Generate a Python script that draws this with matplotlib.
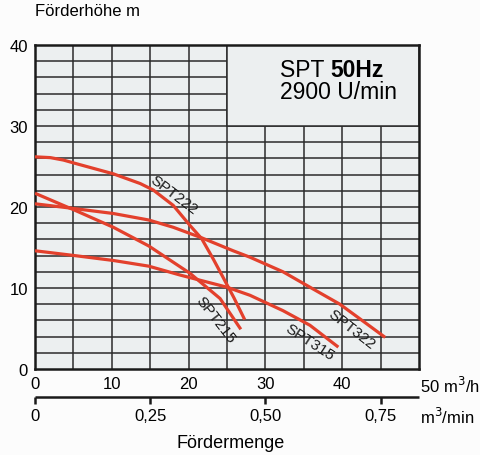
import matplotlib.pyplot as plt
from matplotlib.patches import Rectangle

plt.rcParams["font.family"] = ["Liberation Sans", "DejaVu Sans"]

# Q-H curves (Fördermenge m3/h, Förderhöhe m)
spt222_q = [0, 2, 3.7, 5.2, 10.2, 13.7, 15.4, 18, 20.2, 21.7, 23.2, 24.5, 25.9, 27.3]
spt222_h = [26.2, 26.1, 25.8, 25.4, 24.1, 22.9, 22.1, 20.2, 17.7, 16.1, 13.6, 11.3, 8.8, 6.1]

spt322_q = [0, 5.2, 10.2, 14.8, 18, 21.7, 25.8, 28, 32.3, 35.8, 39.7, 42.3, 45.6]
spt322_h = [20.4, 19.8, 19.2, 18.4, 17.5, 16.2, 14.6, 13.8, 12.0, 10.1, 8.0, 6.2, 3.9]

spt315_q = [0, 5.2, 10.2, 14.8, 18.9, 25, 28, 32.3, 35.8, 39.5]
spt315_h = [14.6, 14.0, 13.4, 12.7, 11.6, 10.1, 9.1, 7.2, 5.4, 2.7]

spt215_q = [0, 3.7, 5.2, 10.2, 14.8, 20.2, 24.1, 26.8]
spt215_h = [21.7, 20.2, 19.6, 17.5, 15.2, 11.8, 8.7, 4.9]

curve_names = ["SPT222", "SPT322", "SPT315", "SPT215"]
label_pos = [(18.1, 21.5), (41.2, 4.9), (35.8, 3.4), (23.5, 6.2)]
label_rot = [-37, -38, -33, -52]

x_ticks = [0, 10, 20, 30, 40]
y_ticks = [0, 10, 20, 30, 40]
min_ticks = [0, 0.25, 0.50, 0.75]
min_labels = ["0", "0,25", "0,50", "0,75"]

red = "#e3402c"
grid_col = "#2b2b2b"
dark = "#1a1a1a"
bg = "#eceff0"

fig = plt.figure(figsize=(4.8, 4.56), dpi=100)
fig.patch.set_facecolor("#fcfcfc")
ax = fig.add_axes([0.0729, 0.1886, 0.8, 0.7104])
ax.set_facecolor(bg)
ax.set_xlim(0, 50)
ax.set_ylim(0, 40)

# grid
for gx in range(5, 50, 5):
    ax.axvline(gx, color=grid_col, lw=1.1, zorder=1)
for gy in range(2, 40, 2):
    ax.axhline(gy, color=grid_col, lw=1.1, zorder=1)

# title box area without grid
ax.add_patch(Rectangle((25, 30), 25, 10, facecolor=bg, edgecolor=grid_col,
                       lw=1.1, zorder=2))
ax.text(38.4, 37.0, "SPT ", ha="right", va="center", fontsize=16.5, zorder=3)
ax.text(38.4, 37.0, "50Hz", ha="left", va="center", fontsize=16.5,
        fontweight="bold", zorder=3)
ax.text(39.5, 34.3, "2900 U/min", ha="center", va="center", fontsize=16.5,
        zorder=3)

for q, h in [(spt222_q, spt222_h), (spt322_q, spt322_h),
             (spt315_q, spt315_h), (spt215_q, spt215_h)]:
    ax.plot(q, h, color=red, lw=2.3, solid_capstyle="butt",
            solid_joinstyle="round", zorder=4)

for name, (lx, ly), rot in zip(curve_names, label_pos, label_rot):
    ax.text(lx, ly, name, rotation=rot, ha="center", va="center",
            fontsize=11, color=dark, zorder=5)

for s in ax.spines.values():
    s.set_linewidth(1.8)
    s.set_color(dark)

ax.set_xticks(x_ticks)
ax.set_yticks(y_ticks)
ax.tick_params(length=0, labelsize=12, pad=5)
ax.set_yticklabels([str(v) for v in y_ticks])
ax.set_xticklabels([str(v) for v in x_ticks])
ax.text(50.1, -2.0, "50 m$^3$/h", ha="left", va="center", fontsize=12)
ax.text(0, 44.3, "Förderhöhe m", ha="left", va="center", fontsize=12)

# secondary scale in m3/min, drawn below the plot in the main axes
scale_y = -3.5
min_pos = [m * 60 for m in min_ticks]
ax.plot([0, 50], [scale_y, scale_y], color=dark, lw=1.8,
        solid_capstyle="butt", clip_on=False, zorder=6)
ax.vlines(min_pos, scale_y - 0.85, scale_y, color=dark, lw=1.8,
          clip_on=False, zorder=6)
for p, lab in zip(min_pos, min_labels):
    ax.text(p, scale_y - 2.3, lab, ha="center", va="center", fontsize=12)
ax.text(50.1, scale_y - 2.3, "m$^3$/min", ha="left", va="center", fontsize=12)
fig.text(0.481, 0.028, "Fördermenge", ha="center", va="center", fontsize=13)

fig.savefig("out.png", dpi=100)
